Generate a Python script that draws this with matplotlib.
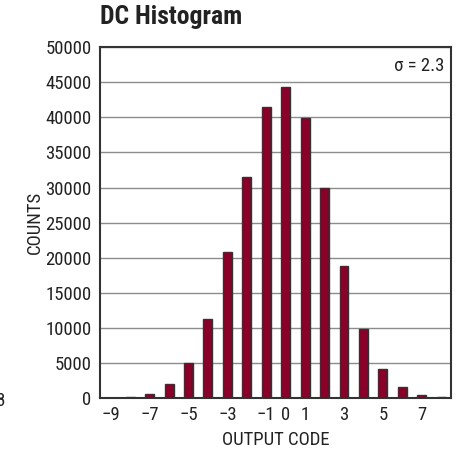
# DC HISTOGRAM - CODIGOS DE SALIDA
import numpy as np
import matplotlib
matplotlib.use("Agg")
import matplotlib.pyplot as plt

# DATOS
codigos = [-9, -8, -7, -6, -5, -4, -3, -2, -1, 0, 1, 2, 3, 4, 5, 6, 7, 8]
cuentas = [50, 150, 550, 1950, 4950, 11300, 20800, 31500, 41500,
           44300, 39900, 29900, 18800, 9800, 4200, 1500, 430, 150]

ticks_x = [-9, -7, -5, -3, -1, 0, 1, 3, 5, 7]
etiquetas_x = ["\u22129", "\u22127", "\u22125", "\u22123", "\u22121",
               "0", "1", "3", "5", "7"]
ticks_y = list(range(0, 50001, 5000))

fuente = ["Liberation Sans Narrow", "Roboto Condensed", "Liberation Sans",
          "DejaVu Sans"]
plt.rcParams["font.family"] = fuente

fig = plt.figure(figsize=(4.62, 4.58), dpi=100)
ax = fig.add_axes([0.2165, 0.131, 0.7595, 0.766])

# BARRAS
ax.bar(codigos, cuentas, width=0.46, color="#8a0028",
       edgecolor="#333333", linewidth=1.0, zorder=3)

ax.set_xlim(-9.55, 8.5)
ax.set_ylim(0, 50000)
ax.set_xticks(ticks_x)
ax.set_xticklabels(etiquetas_x)
ax.set_yticks(ticks_y)
ax.tick_params(length=0, labelsize=13.5, colors="#222222", pad=6)

# REJILLA
ax.yaxis.grid(True, color="#8c8c8c", linewidth=1.0, zorder=0)
for s in ax.spines.values():
    s.set_color("#333333")
    s.set_linewidth(1.5)

ax.set_xlabel("OUTPUT CODE", fontsize=13.5, color="#222222", labelpad=5)
ax.set_ylabel("COUNTS", fontsize=13.5, color="#222222", labelpad=1)

ax.text(0.98, 0.945, "\u03c3 = 2.3", transform=ax.transAxes,
        ha="right", va="center", fontsize=13.5, color="#222222")

# TITULO
fig.text(0.2165, 0.963, "DC Histogram", fontsize=18.5, fontweight="bold",
         ha="left", va="center", color="#222222")

# RESTO DE OTRA FIGURA EN EL BORDE
fig.text(0.002, 0.124, "8", fontsize=13.5, ha="center", va="center",
         color="#222222")

fig.savefig("out.png", dpi=100)
